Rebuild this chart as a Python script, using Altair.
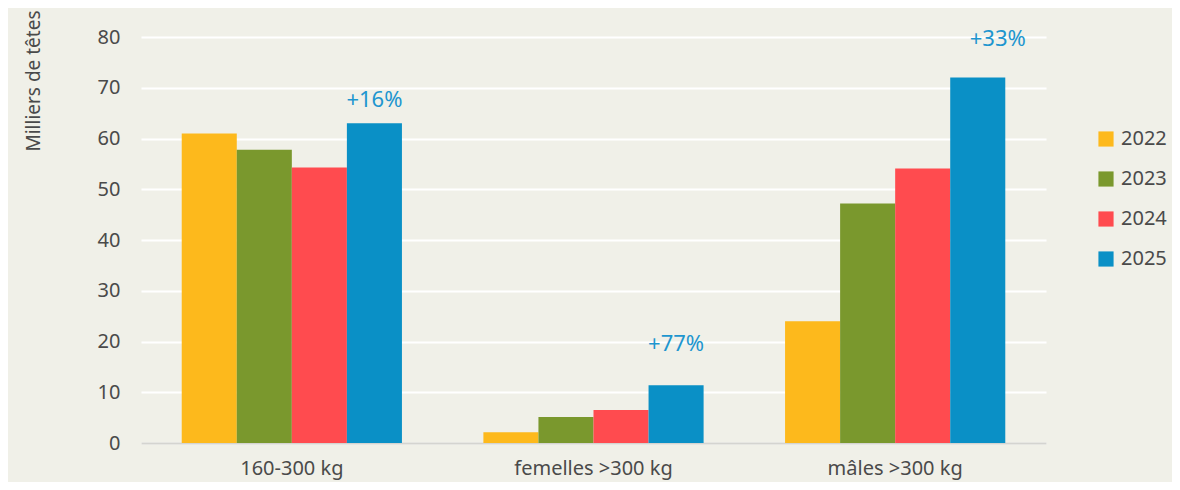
import altair as alt
import pandas as pd

categories = ["160-300 kg", "femelles >300 kg", "mâles >300 kg"]
years = ["2022", "2023", "2024", "2025"]
v2022 = [61.0, 2.1, 24.0]
v2023 = [57.8, 5.1, 47.2]
v2024 = [54.3, 6.5, 54.1]
v2025 = [63.0, 11.4, 72.0]
colors = ["#FDB91C", "#7A982D", "#FF4B4F", "#0A90C6"]

ann_labels = ["+16%", "+77%", "+33%"]
ann_y = [67.6, 19.6, 79.6]

rows = []
for i, c in enumerate(categories):
    for y, vals in zip(years, [v2022, v2023, v2024, v2025]):
        rows.append({"cat": c, "year": y, "value": vals[i]})
df = pd.DataFrame(rows)

ann = pd.DataFrame({"cat": categories, "year": ["2025"] * 3, "label": ann_labels, "y": ann_y})

FONT = "Noto Sans"
TXT = "#4a4a4a"

x_enc = alt.X("cat:N", sort=categories, title=None,
              scale=alt.Scale(paddingInner=0.27, paddingOuter=0.135),
              axis=alt.Axis(labelAngle=0, labelFontSize=20, labelColor=TXT,
                            labelPadding=15, ticks=False, domainColor="#d4d4d0",
                            domainWidth=2, labelFont=FONT))
xo_enc = alt.XOffset("year:N", sort=years, scale=alt.Scale(domain=years, paddingInner=0, paddingOuter=0))

bars = alt.Chart(df).mark_bar().encode(
    x=x_enc,
    xOffset=xo_enc,
    y=alt.Y("value:Q", scale=alt.Scale(domain=[0, 80]),
            axis=alt.Axis(values=list(range(0, 81, 10)), title="Milliers de têtes",
                          labelFontSize=20, labelColor=TXT, labelPadding=21,
                          ticks=False, domain=False, grid=True, gridColor="#FFFFFF",
                          gridWidth=2, labelFont=FONT,
                          titleFont=FONT, titleFontSize=19, titleFontWeight="normal",
                          titleColor=TXT, titleAngle=-90, titleAlign="right",
                          titleBaseline="middle", titleX=-108, titleY=-27)),
    color=alt.Color("year:N", sort=years, scale=alt.Scale(domain=years, range=colors),
                    legend=alt.Legend(title=None, orient="none", legendX=955, legendY=92,
                                      symbolType="square", symbolSize=230,
                                      labelFontSize=20, labelColor=TXT,
                                      labelFont=FONT, rowPadding=20, labelOffset=5,
                                      symbolStrokeWidth=0)),
)

def ann_layer(d, dx):
    return alt.Chart(d).mark_text(fontSize=22, color="#1E96CF", font=FONT,
                                  baseline="middle", dx=dx).encode(
        x=alt.X("cat:N", sort=categories),
        xOffset=alt.XOffset("year:N", sort=years),
        y=alt.Y("y:Q"),
        text="label:N",
    )

texts = ann_layer(ann.iloc[:2], 0)
texts2 = ann_layer(ann.iloc[2:], 20)

chart = alt.layer(bars, texts, texts2).properties(
    width=905, height=406,
    background="#F0F0E8",
    padding={"left": 133, "top": 29, "right": 126, "bottom": 39},
    autosize=alt.AutoSizeParams(type="none"),
).configure_view(stroke=None)

chart.save("out.html", embed_options={"renderer": "svg", "actions": False})
